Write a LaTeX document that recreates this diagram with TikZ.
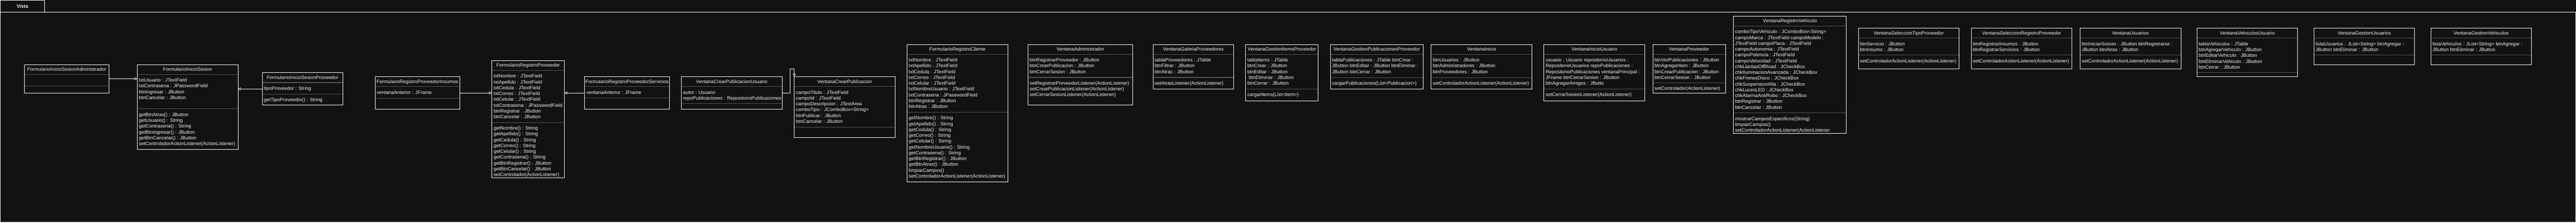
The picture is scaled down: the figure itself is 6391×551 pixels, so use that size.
\documentclass[tikz,border=0pt]{standalone}
\usepackage{fontspec}
\setmainfont{Liberation Sans}
\usetikzlibrary{arrows.meta}
\definecolor{bg}{HTML}{121212}
\definecolor{fg}{HTML}{F0F0F0}
\definecolor{sepgray}{HTML}{555555}
\tikzset{
  classbox/.style={draw=white, line width=1pt, inner sep=0pt, outer sep=0pt, anchor=north west},
  framebox/.style={draw=white, line width=1pt, inner sep=0pt, outer sep=0pt, anchor=north west},
  sepline/.style={draw=sepgray, line width=1.4pt},
  titletext/.style={anchor=base, inner sep=0pt, text=fg, font=\fontsize{12}{14.4}\selectfont},
  membertext/.style={anchor=base west, inner sep=0pt, text=fg, font=\fontsize{12}{14.4}\selectfont},
  genarrow/.style={draw=white, line width=1pt, -{Triangle[open, length=7pt, width=7pt]}},
}
% #1 name, #2 x, #3 y, #4 w, #5 h, #6 separator y, #7 title
\newcommand{\umlclass}[7]{%
  \draw[sepline] ({#2},{#3+24.5}) -- ({#2+#4},{#3+24.5});
  \draw[sepline] ({#2},{#6}) -- ({#2+#4},{#6});
  \node[classbox, minimum width=#4pt, minimum height=#5pt] (#1) at (#2,#3) {};
  \node[titletext] (#1-title) at ({#2+#4/2},{#3+15.8}) {#7};
}
% #1 prefix, #2 x, #3 y of the line above the compartment, #4 list
\newcommand{\umlmembers}[4]{%
  \foreach \mtext [count=\mi] in {#4}{%
    \node[membertext] (#1-\mi) at ({#2+4},{#3+18.3+14.4*(\mi-1)}) {\mtext};
  }%
}
\begin{document}
\begin{tikzpicture}[x=1pt, y=-1pt]
\fill[bg] (0,0) rectangle (6391,551);
\useasboundingbox (0,0) rectangle (6391,551);

% frame
\node[framebox, minimum width=6390pt, minimum height=520pt] (frame) at (0.5,30) {};
\node[framebox, minimum width=110pt, minimum height=29.5pt, text=fg, font=\bfseries\fontsize{12}{14.4}\selectfont] (tab) at (0.5,0.5) {Vista};

% classes
\umlclass{FISA}{60.5}{160}{210}{70}{212.4}{FormularioInicioSesionAdministrador}

\umlclass{FIS}{340.5}{160}{250}{210}{269.6}{FormularioInicioSesion}
\umlmembers{FIS-a}{340.5}{184.5}{txtUsuario : JTextField, txtContrasena : JPasswordField, btnIngresar : JButton, btnCancelar : JButton}
\umlmembers{FIS-m}{340.5}{269.6}{getBtnAtras() : JButton, getUsuario() : String, getContrasena() : String, getBtnIngresar() : JButton, getBtnCancelar() : JButton, setControladorActionListener(ActionListener)}

\umlclass{FISP}{650.5}{180}{200}{80}{232.7}{FormularioInicioSesionProveedor}
\umlmembers{FISP-a}{650.5}{204.5}{tipoProveedor : String}
\umlmembers{FISP-m}{650.5}{232.7}{getTipoProveedor() : String}

\umlclass{FRPI}{930.5}{190}{210}{80}{243}{FormularioRegistroProveedorInsumos}
\umlmembers{FRPI-a}{930.5}{214.5}{ventanaAnterior : JFrame}

\umlclass{FRP}{1220.5}{150}{180}{290}{303.3}{FormularioRegistroProveedor}
\umlmembers{FRP-a}{1220.5}{174.5}{txtNombre : JTextField, txtApellido : JTextField, txtCedula : JTextField, txtCorreo : JTextField, txtCelular : JTextField, txtContrasena : JPasswordField, btnRegistrar : JButton, btnCancelar : JButton}
\umlmembers{FRP-m}{1220.5}{303.3}{getNombre() : String, getApellido() : String, getCedula() : String, getCorreo() : String, getCelular() : String, getContrasena() : String, getBtnRegistrar() : JButton, getBtnCancelar() : JButton, setControlador(ActionListener)}

\umlclass{FRPS}{1450.5}{190}{210}{80}{242.7}{FormularioRegistroProveedorServicios}
\umlmembers{FRPS-a}{1450.5}{214.5}{ventanaAnterior : JFrame}

\umlclass{VCPU}{1690.5}{190}{250}{80}{256.7}{VentanaCrearPublicacionUsuario}
\umlmembers{VCPU-a}{1690.5}{214.5}{autor : Usuario, repoPublicaciones : RepositorioPublicaciones}

\umlclass{VCP}{1970.5}{190}{250}{150}{315}{VentanaCrearPublicacion}
\umlmembers{VCP-a}{1970.5}{214.5}{campoTitulo : JTextField, campoId : JTextField, campoDescripcion : JTextArea, comboTipo : JComboBox<String>, btnPublicar : JButton, btnCancelar : JButton}

\umlclass{FRC}{2250.5}{110}{250}{340}{278}{FormularioRegistroCliente}
\umlmembers{FRC-a}{2250.5}{134.5}{txtNombre : JTextField, txtApellido : JTextField, txtCedula : JTextField, txtCorreo : JTextField, txtCelular : JTextField, txtNombreUsuario : JTextField, txtContrasena : JPasswordField, btnRegistrar : JButton, btnAtras : JButton}
\umlmembers{FRC-m}{2250.5}{278}{getNombre() : String, getApellido() : String, getCedula() : String, getCorreo() : String, getCelular() : String, getNombreUsuario() : String, getContrasena() : String, getBtnRegistrar() : JButton, getBtnAtras() : JButton, limpiarCampos(), setControladorActionListener(ActionListener)}

\umlclass{VA}{2550.5}{110}{260}{150}{191.7}{VentanaAdministrador}
\umlmembers{VA-a}{2550.5}{134.5}{btnRegistrarProveedor : JButton, btnCrearPublicacion : JButton, btnCerrarSesion : JButton}
\umlmembers{VA-m}{2550.5}{191.7}{setRegistrarProveedorListener(ActionListener), setCrearPublicacionListener(ActionListener), setCerrarSesionListener(ActionListener)}

\umlclass{VGP}{2860.5}{110}{200}{110}{191.7}{VentanaGaleriaProveedores}
\umlmembers{VGP-a}{2860.5}{134.5}{tablaProveedores : JTable, btnFiltrar : JButton, btnAtras : JButton}
\umlmembers{VGP-m}{2860.5}{191.7}{setAtrasListener(ActionListener)}

\umlclass{VGIP}{3090.5}{110}{180}{140}{220}{VentanaGestionItemsProveedor}
\umlmembers{VGIP-a}{3090.5}{134.5}{tablaItems : JTable, btnCrear : JButton, btnEditar : JButton, {\hspace*{3.3pt}btnEliminar : JButton}, btnCerrar : JButton}
\umlmembers{VGIP-m}{3090.5}{220}{cargarItems(List<Item>)}

\umlclass{VGPP}{3300.5}{110}{230}{110}{192}{VentanaGestionPublicacionesProveedor}
\umlmembers{VGPP-a}{3300.5}{134.5}{tablaPublicaciones : JTable btnCrear :, JButton btnEditar : JButton btnEliminar :, JButton btnCerrar : JButton}
\umlmembers{VGPP-m}{3300.5}{192}{cargarPublicaciones(List<Publicacion>)}

\umlclass{VI}{3550.5}{110}{250}{110}{192}{VentanaInicio}
\umlmembers{VI-a}{3550.5}{134.5}{btnUsuarios : JButton, btnAdministradores : JButton, btnProveedores : JButton}
\umlmembers{VI-m}{3550.5}{192}{setControladorActionListener(ActionListener)}

\umlclass{VIU}{3830.5}{110}{250}{140}{220}{VentanaInicioUsuario}
\umlmembers{VIU-a}{3830.5}{134.5}{usuario : Usuario repositorioUsuarios :, RepositorioUsuarios repoPublicaciones :, RepositorioPublicaciones ventanaPrincipal :, JFrame btnCerrarSesion : JButton, btnAgregarAmigos : JButto}
\umlmembers{VIU-m}{3830.5}{220}{setCerrarSesionListener(ActionListener)}

\umlclass{VP}{4100.5}{110}{180}{120}{205.3}{VentanaProveedor}
\umlmembers{VP-a}{4100.5}{134.5}{btnVerPublicaciones : JButton, btnAgregarItem : JButton, btnCrearPublicacion : JButton, btnCerrarSesion : JButton}
\umlmembers{VP-m}{4100.5}{205.3}{setControlador(ActionListener)}

\umlclass{VRV}{4300.5}{40}{280}{290}{279.7}{VentanaRegistroVehiculo}
\umlmembers{VRV-a}{4300.5}{64.5}{comboTipoVehiculo : JComboBox<String>, campoMarca : JTextField campoModelo :, JTextField campoPlaca : JTextField, campoAutonomia : JTextField, campoPotencia : JTextField, campoVelocidad : JTextField, chkLlantasOffRoad : JCheckBox, chkIluminacionAvanzada : JCheckBox, chkFrenosDisco : JCheckBox, chkSuspensionAlta : JCheckBox, chkLucesLED : JCheckBox, chkAlarmaAntiRobo : JCheckBox, btnRegistrar : JButton, btnCancelar : JButton}
\umlmembers{VRV-m}{4300.5}{279.7}{mostrarCamposEspecificos(String), limpiarCampos(), setControladorActionListener(ActionListener}

\umlclass{VSTP}{4610.5}{70}{250}{100}{136.5}{VentanaSeleccionTipoProveedor}
\umlmembers{VSTP-a}{4610.5}{94.5}{btnServicio : JButton, btnInsumo : JButton}
\umlmembers{VSTP-m}{4610.5}{136.5}{setControladorActionListener(ActionListener)}

\umlclass{VSRP}{4890.5}{70}{250}{100}{136.7}{VentanaSeleccionRegistroProveedor}
\umlmembers{VSRP-a}{4890.5}{94.5}{btnRegistrarInsumos : JButton, btnRegistrarServicios : JButton}
\umlmembers{VSRP-m}{4890.5}{136.7}{setControladorActionListener(ActionListener)}

\umlclass{VU}{5160.5}{70}{250}{100}{136.7}{VentanaUsuarios}
\umlmembers{VU-a}{5160.5}{94.5}{btnIniciarSesion : JButton btnRegistrarse :, JButton btnAtras : JButton}
\umlmembers{VU-m}{5160.5}{136.7}{setControladorActionListener(ActionListener)}

\umlclass{VVU}{5450.5}{70}{250}{120}{179.4}{VentanaVehiculosUsuario}
\umlmembers{VVU-a}{5450.5}{94.5}{tablaVehiculos : JTable, btnAgregarVehiculo : JButton, btnEditarVehiculo : JButton, btnEliminarVehiculo : JButton, btnCerrar : JButton}

\umlclass{VGU}{5740.5}{70}{250}{90}{136.5}{VentanaGestionUsuarios}
\umlmembers{VGU-a}{5740.5}{94.5}{listaUsuarios : JList<String> btnAgregar :, JButton btnEliminar : JButton}

\umlclass{VGV}{6030.5}{70}{250}{90}{136.5}{VentanaGestionVehiculos}
\umlmembers{VGV-a}{6030.5}{94.5}{listaVehiculos : JList<String> btnAgregar :, JButton btnEliminar : JButton}

% generalisations
\draw[genarrow] (FISA.east) -- (FISA.east -| FIS.west);
\draw[genarrow] (FISP.west) -- (FISP.west -| FIS.east);
\draw[genarrow] (FRPI.east) -- (FRPI.east -| FRP.west);
\draw[genarrow] (FRPS.west) -- (FRPS.west -| FRP.east);
\coordinate (vcpbend) at (1960.5,170);
\draw[genarrow] (VCPU.east) -| (vcpbend) -- (vcpbend -| VCP.north west) -- (VCP.north west);
\end{tikzpicture}
\end{document}
